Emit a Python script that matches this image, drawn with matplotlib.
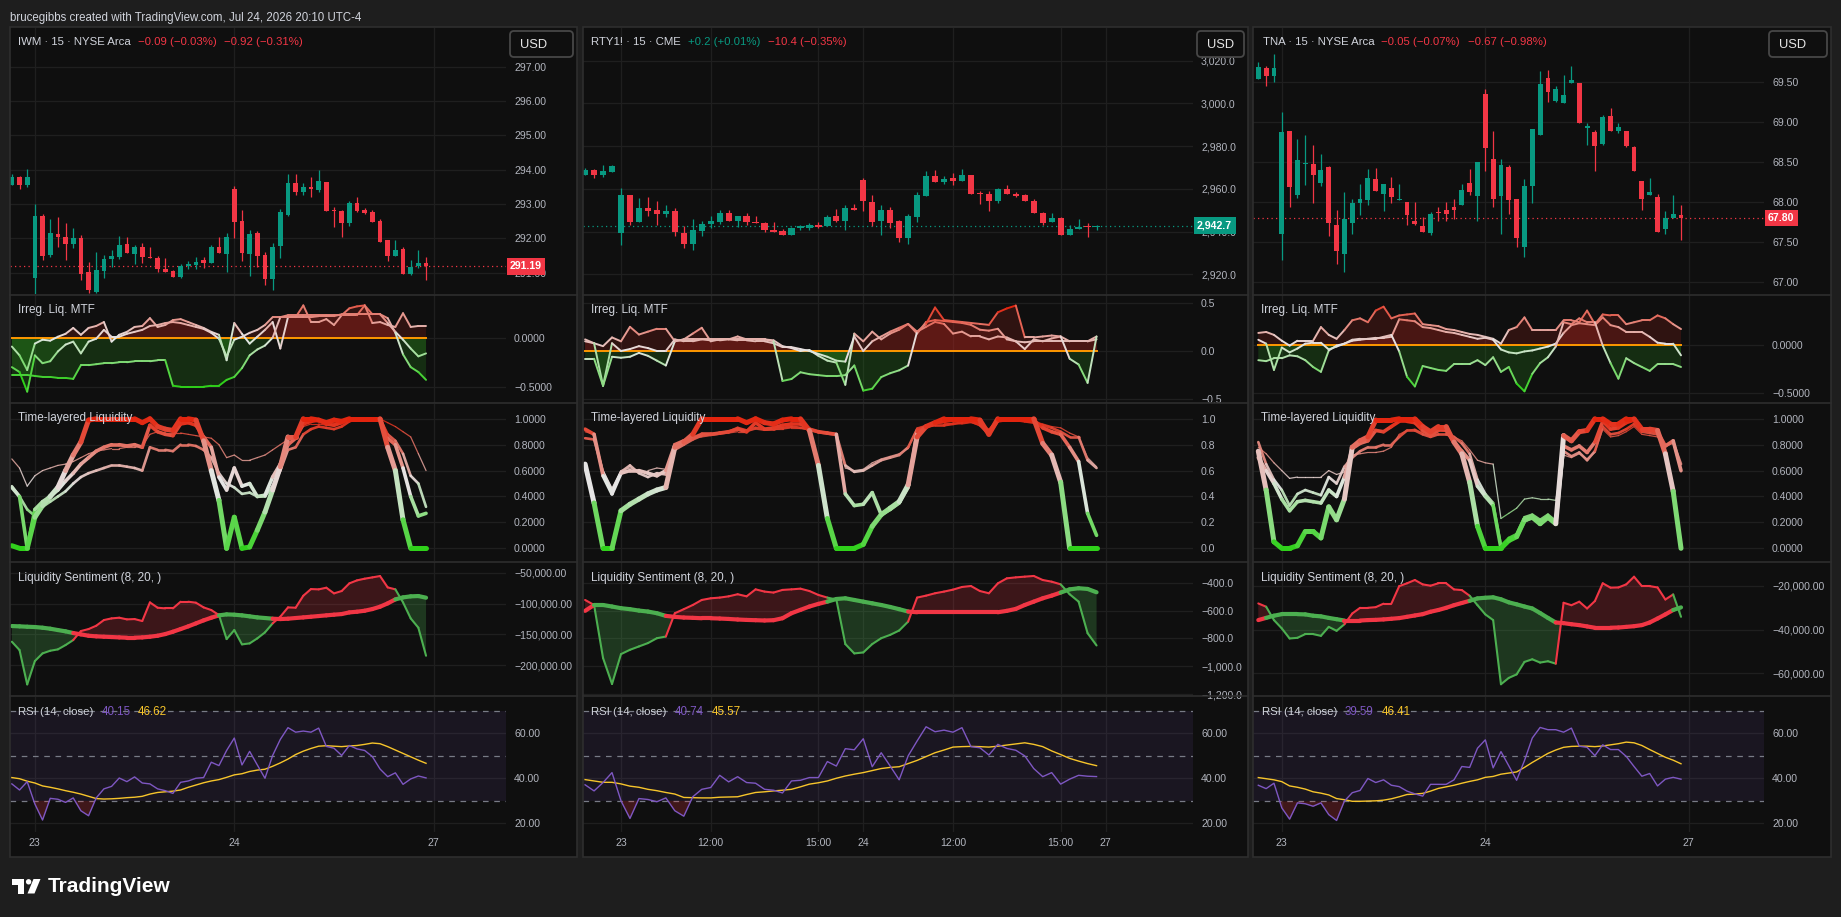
import numpy as np
import matplotlib
matplotlib.use("Agg")
import matplotlib.pyplot as plt
from matplotlib.collections import LineCollection
from matplotlib.colors import LinearSegmentedColormap, Normalize
from matplotlib.patches import Rectangle, FancyBboxPatch, Polygon, Circle
from matplotlib.transforms import blended_transform_factory

plt.rcParams['font.family'] = ['Liberation Sans', 'DejaVu Sans']

# ---------------- IWM (15m) ----------------
iwm_open = [293.55, 293.80, 293.55, 290.85, 292.65, 291.51, 292.12, 292.04, 291.84, 292.02, 291.01, 290.45, 291.06, 291.40, 291.47, 291.85, 291.54, 291.75, 291.47, 291.42, 291.10, 291.05, 290.88, 291.20, 291.22, 291.37, 291.29, 291.74, 291.54, 293.44, 292.50, 291.54, 292.15, 291.51, 290.82, 291.78, 292.68, 293.62, 293.36, 293.49, 293.41, 293.64, 292.83, 292.80, 292.46, 293.02, 292.83, 292.77, 292.50, 291.95, 291.50, 291.69, 290.96, 291.19, 291.27]
iwm_high = [293.89, 293.83, 294.02, 293.00, 292.70, 292.56, 292.61, 292.45, 292.29, 292.10, 291.30, 291.59, 291.53, 291.66, 292.06, 292.04, 291.80, 291.88, 291.75, 291.50, 291.42, 291.08, 291.25, 291.34, 291.45, 291.47, 291.81, 292.03, 292.15, 293.52, 292.83, 292.24, 292.21, 291.59, 291.88, 292.87, 293.87, 293.87, 293.61, 293.78, 293.99, 293.64, 292.92, 292.83, 293.09, 293.20, 292.90, 292.83, 292.56, 291.95, 291.95, 291.76, 291.37, 291.66, 291.45]
iwm_low = [293.55, 293.44, 293.50, 290.38, 291.37, 291.46, 291.74, 291.37, 291.71, 290.79, 290.40, 290.40, 290.86, 291.17, 291.40, 291.56, 291.24, 291.27, 291.44, 291.03, 291.03, 290.88, 290.85, 291.10, 291.10, 291.15, 291.27, 291.56, 291.03, 292.02, 291.35, 290.91, 291.17, 290.64, 290.50, 291.44, 292.65, 293.26, 293.26, 293.21, 293.34, 292.81, 292.34, 292.05, 292.37, 292.78, 292.71, 292.49, 291.90, 291.35, 291.50, 290.96, 290.93, 291.15, 290.79]
iwm_close = [293.80, 293.55, 293.78, 292.65, 291.49, 292.15, 292.05, 291.84, 292.01, 290.96, 290.50, 291.08, 291.40, 291.50, 291.80, 291.58, 291.76, 291.47, 291.44, 291.12, 291.03, 290.88, 291.21, 291.25, 291.31, 291.27, 291.74, 291.58, 292.03, 292.49, 291.56, 292.13, 291.49, 290.83, 291.76, 292.77, 293.61, 293.36, 293.49, 293.43, 293.67, 292.81, 292.80, 292.46, 293.04, 292.81, 292.73, 292.49, 291.90, 291.49, 291.66, 290.96, 291.17, 291.27, 291.19]

iwm_irr_a = [-0.09, -0.18, -0.33, -0.06, -0.02, -0.03, 0.01, 0.04, 0.10, 0.03, 0.10, 0.12, 0.16, -0.04, 0.03, 0.06, 0.11, 0.12, 0.20, 0.11, 0.13, 0.18, 0.19, 0.16, 0.13, 0.10, 0.06, 0.03, -0.23, 0.15, 0.04, -0.06, 0.01, 0.08, 0.16, -0.11, 0.21, 0.21, 0.33, 0.16, 0.16, 0.19, 0.13, 0.23, 0.23, 0.23, 0.33, 0.24, 0.24, 0.15, 0.06, -0.02, -0.11, -0.19, -0.16]
iwm_irr_b = [-0.30, -0.35, -0.55, -0.18, -0.26, -0.24, -0.14, -0.07, -0.04, -0.16, -0.04, -0.01, 0.08, 0.01, 0.01, 0.04, 0.06, 0.08, 0.12, 0.13, 0.15, 0.16, 0.15, 0.13, 0.11, 0.09, 0.05, -0.01, -0.19, -0.02, 0.01, 0.05, 0.08, 0.13, 0.21, 0.21, 0.23, 0.23, 0.23, 0.23, 0.23, 0.23, 0.23, 0.23, 0.30, 0.32, 0.33, 0.15, 0.16, 0.13, 0.11, 0.25, 0.11, 0.12, 0.12]
iwm_irr_c = [-0.38, -0.38, -0.38, -0.39, -0.40, -0.40, -0.41, -0.41, -0.42, -0.28, -0.28, -0.27, -0.26, -0.26, -0.25, -0.25, -0.24, -0.24, -0.24, -0.23, -0.23, -0.49, -0.50, -0.50, -0.50, -0.50, -0.49, -0.49, -0.43, -0.40, -0.31, -0.18, -0.12, -0.08, 0.0, 0.21, 0.21, 0.21, 0.21, 0.21, 0.22, 0.22, 0.22, 0.24, 0.24, 0.24, 0.24, 0.24, 0.24, 0.20, 0.05, -0.17, -0.30, -0.35, -0.43]

iwm_tll_a = [0.02, 0.0, 0.0, 0.24, 0.33, 0.40, 0.47, 0.60, 0.72, 0.82, 0.99, 1.0, 1.0, 1.0, 1.0, 1.0, 1.0, 0.97, 1.0, 0.94, 0.92, 0.91, 1.0, 1.0, 0.99, 0.83, 0.60, 0.37, 0.0, 0.24, 0.0, 0.01, 0.14, 0.28, 0.45, 0.63, 0.86, 0.86, 1.0, 1.0, 0.99, 0.97, 0.99, 0.98, 1.0, 1.0, 1.0, 1.0, 1.0, 0.78, 0.60, 0.22, 0.0, 0.0, 0.0]
iwm_tll_b = [0.47, 0.40, 0.0, 0.30, 0.36, 0.40, 0.45, 0.52, 0.58, 0.65, 0.70, 0.75, 0.78, 0.80, 0.80, 0.79, 0.80, 0.78, 0.95, 0.90, 0.88, 0.87, 0.96, 0.97, 0.95, 0.86, 0.78, 0.55, 0.45, 0.62, 0.48, 0.50, 0.40, 0.41, 0.55, 0.65, 0.80, 0.85, 0.96, 0.98, 0.99, 0.96, 0.95, 0.97, 1.0, 1.0, 1.0, 1.0, 1.0, 0.85, 0.80, 0.62, 0.40, 0.25, 0.27]
iwm_tll_c = [0.48, 0.40, 0.30, 0.25, 0.32, 0.36, 0.40, 0.44, 0.50, 0.55, 0.58, 0.60, 0.62, 0.64, 0.64, 0.63, 0.62, 0.60, 0.78, 0.76, 0.76, 0.75, 0.80, 0.80, 0.79, 0.76, 0.70, 0.58, 0.50, 0.47, 0.42, 0.43, 0.40, 0.40, 0.48, 0.60, 0.76, 0.78, 0.88, 0.92, 0.94, 0.93, 0.92, 0.94, 0.98, 1.0, 1.0, 1.0, 1.0, 0.88, 0.83, 0.73, 0.56, 0.50, 0.32]
iwm_tll_d = [0.69, 0.62, 0.48, 0.56, 0.60, 0.62, 0.64, 0.65, 0.67, 0.70, 0.73, 0.75, 0.76, 0.77, 0.77, 0.78, 0.78, 0.79, 0.88, 0.90, 0.89, 0.89, 0.89, 0.88, 0.87, 0.86, 0.85, 0.80, 0.70, 0.72, 0.68, 0.68, 0.70, 0.72, 0.76, 0.80, 0.84, 0.86, 0.94, 0.96, 0.96, 0.95, 0.96, 0.98, 1.0, 1.0, 1.0, 1.0, 1.0, 0.97, 0.94, 0.90, 0.86, 0.73, 0.60]

iwm_sent_fast = [-161800, -175300, -230900, -193100, -180700, -176400, -174200, -167200, -159100, -144500, -141300, -135900, -126700, -124000, -122900, -125600, -125100, -128300, -98100, -106700, -107800, -107800, -97000, -97000, -98600, -106200, -110500, -118600, -157500, -142900, -166100, -164500, -156400, -146700, -132100, -121300, -106200, -106700, -87300, -76500, -77000, -74300, -83500, -79700, -67300, -62400, -59700, -57600, -55400, -73800, -77000, -98100, -124000, -139100, -184500]
iwm_sent_slow = [-136400, -136900, -137500, -138000, -139100, -140700, -142900, -145000, -147700, -149900, -152100, -153100, -153700, -154200, -154800, -155300, -155300, -154800, -153700, -152100, -149400, -145600, -141300, -136900, -132100, -127200, -122900, -119100, -117500, -118000, -119100, -120700, -122400, -123400, -124500, -125100, -124500, -123400, -122400, -121300, -120200, -119100, -118000, -117000, -114300, -113200, -111600, -108900, -105100, -99700, -93200, -90000, -88300, -87800, -90500]

iwm_rsi = [37.5, 34.8, 38.5, 28.6, 21.5, 31.1, 30.7, 29.3, 31.3, 25.6, 23.4, 31.3, 35.3, 36.4, 40.1, 38.5, 40.6, 37.9, 37.5, 35.3, 34.5, 33.3, 38.2, 38.8, 40.0, 40.3, 47.1, 45.6, 52.3, 57.8, 45.9, 51.9, 45.9, 40.0, 50.1, 57.2, 62.4, 60.4, 60.9, 60.4, 62.2, 54.1, 53.3, 50.1, 54.5, 53.0, 52.3, 49.6, 44.1, 40.7, 42.4, 37.3, 39.7, 41.0, 40.15]
iwm_rsi_ma = [40.3, 39.8, 38.7, 37.9, 36.6, 36.0, 35.3, 34.5, 33.8, 33.0, 32.0, 31.0, 30.8, 30.9, 31.1, 31.4, 31.6, 32.0, 33.0, 33.7, 34.0, 34.3, 34.8, 36.0, 37.0, 38.0, 38.8, 39.4, 40.4, 41.5, 42.0, 43.0, 43.6, 44.0, 45.3, 46.8, 48.5, 50.5, 52.0, 53.2, 54.2, 54.4, 54.2, 54.0, 54.3, 54.5, 55.0, 55.6, 55.3, 54.0, 52.5, 51.0, 49.5, 48.0, 46.62]

# ---------------- RTY1! (15m) ----------------
rty_open = [2966.3, 2968.6, 2966.3, 2967.8, 2939.1, 2956.9, 2944.6, 2951.2, 2950.3, 2948.1, 2949.8, 2939.3, 2934.4, 2940.1, 2943.5, 2944.3, 2948.9, 2945.1, 2947.5, 2944.3, 2944.2, 2940.5, 2940.1, 2938.3, 2941.8, 2941.6, 2942.9, 2942.4, 2947.5, 2945.1, 2951.2, 2963.9, 2954.0, 2945.1, 2950.3, 2944.8, 2936.9, 2947.0, 2956.5, 2965.8, 2963.1, 2965.0, 2963.6, 2966.3, 2958.1, 2957.6, 2954.2, 2959.7, 2957.6, 2956.9, 2954.5, 2948.7, 2944.3, 2946.2, 2938.5, 2941.2, 2942.3, 2942.0]
rty_high = [2969.7, 2969.1, 2971.0, 2971.0, 2960.5, 2957.3, 2955.8, 2956.1, 2954.5, 2952.6, 2950.9, 2942.7, 2945.9, 2945.1, 2947.3, 2950.3, 2950.3, 2947.3, 2948.9, 2947.5, 2944.6, 2944.3, 2941.2, 2942.1, 2943.2, 2944.2, 2944.6, 2947.9, 2950.6, 2952.2, 2953.1, 2965.0, 2957.3, 2952.2, 2951.4, 2945.4, 2948.2, 2958.4, 2968.3, 2968.6, 2966.0, 2967.5, 2969.1, 2966.3, 2958.9, 2958.9, 2960.5, 2961.9, 2958.4, 2957.6, 2955.1, 2949.0, 2948.7, 2947.0, 2943.1, 2945.9, 2944.0, 2943.1]
rty_low = [2966.3, 2965.0, 2965.5, 2967.8, 2933.8, 2943.1, 2944.3, 2947.1, 2943.2, 2946.7, 2937.7, 2932.5, 2931.5, 2938.0, 2941.6, 2943.4, 2945.1, 2942.0, 2943.2, 2943.8, 2939.6, 2939.6, 2938.3, 2938.3, 2940.9, 2940.9, 2941.8, 2942.4, 2944.3, 2940.9, 2950.3, 2949.8, 2942.7, 2938.3, 2941.8, 2935.2, 2934.1, 2944.3, 2956.5, 2963.1, 2962.4, 2961.9, 2963.6, 2957.5, 2952.8, 2949.5, 2953.4, 2957.5, 2956.1, 2954.2, 2948.5, 2943.1, 2944.3, 2938.5, 2938.5, 2941.2, 2937.3, 2940.9]
rty_close = [2968.6, 2966.3, 2968.2, 2970.5, 2956.9, 2944.6, 2951.2, 2949.8, 2948.1, 2949.8, 2939.6, 2934.4, 2940.9, 2943.5, 2945.1, 2948.9, 2945.1, 2947.3, 2944.3, 2943.8, 2940.5, 2939.6, 2938.3, 2941.8, 2942.6, 2942.9, 2942.3, 2947.0, 2945.1, 2951.2, 2950.3, 2954.2, 2944.6, 2950.3, 2943.8, 2936.8, 2947.5, 2956.9, 2965.8, 2963.1, 2964.5, 2963.6, 2966.3, 2957.5, 2957.5, 2954.2, 2959.7, 2957.5, 2956.4, 2954.2, 2948.5, 2943.8, 2946.2, 2938.5, 2941.2, 2942.3, 2942.0, 2942.7]

rty_irr_a = [0.12, 0.08, 0.05, 0.14, 0.10, 0.25, 0.17, 0.20, 0.23, 0.23, 0.10, 0.12, 0.18, 0.24, 0.10, 0.12, 0.12, 0.15, 0.12, 0.12, 0.12, 0.11, 0.05, 0.03, 0.0, 0.01, -0.05, -0.10, -0.12, -0.35, 0.18, 0.10, 0.20, 0.12, 0.18, 0.22, 0.28, 0.20, 0.25, 0.30, 0.28, 0.18, 0.20, 0.15, 0.15, 0.12, 0.15, 0.14, 0.10, 0.02, 0.12, 0.10, 0.13, 0.15, 0.10, 0.10, 0.10, 0.15]
rty_irr_b = [0.10, 0.08, -0.36, 0.08, 0.0, 0.02, 0.05, 0.03, 0.0, 0.0, 0.12, 0.10, 0.10, 0.12, 0.11, 0.11, 0.12, 0.11, 0.11, 0.10, 0.10, 0.08, 0.04, 0.04, 0.02, 0.0, -0.03, -0.06, -0.10, -0.11, 0.15, 0.0, 0.10, 0.15, 0.20, 0.24, 0.28, 0.18, 0.30, 0.32, 0.31, 0.30, 0.29, 0.27, 0.22, 0.21, 0.23, 0.12, 0.10, 0.09, 0.10, 0.10, 0.10, 0.10, 0.10, 0.10, 0.10, 0.12]
rty_irr_c = [-0.08, -0.08, -0.36, -0.06, -0.07, -0.06, -0.02, -0.05, -0.10, -0.15, 0.10, 0.12, 0.12, 0.12, 0.12, 0.12, 0.12, 0.12, 0.12, 0.12, 0.12, 0.10, -0.31, -0.29, -0.22, -0.24, -0.25, -0.26, -0.26, -0.25, -0.15, -0.41, -0.39, -0.27, -0.23, -0.20, -0.15, 0.20, 0.28, 0.45, 0.32, 0.31, 0.30, 0.29, 0.28, 0.27, 0.40, 0.44, 0.47, 0.14, 0.14, 0.15, 0.16, 0.15, -0.08, -0.14, -0.33, 0.15]

rty_tll_a = [0.65, 0.35, 0.0, 0.0, 0.29, 0.34, 0.38, 0.42, 0.45, 0.47, 0.78, 0.82, 0.88, 1.0, 1.0, 1.0, 1.0, 1.0, 0.97, 1.0, 0.97, 0.96, 0.99, 1.0, 1.0, 0.91, 0.64, 0.23, 0.0, 0.0, 0.0, 0.03, 0.17, 0.26, 0.31, 0.36, 0.49, 0.86, 0.94, 0.97, 1.0, 1.0, 1.0, 1.0, 0.99, 0.88, 1.0, 1.0, 1.0, 1.0, 1.0, 0.81, 0.72, 0.51, 0.0, 0.0, 0.0, 0.0]
rty_tll_b = [0.92, 0.88, 0.56, 0.42, 0.58, 0.60, 0.60, 0.58, 0.56, 0.60, 0.80, 0.83, 0.85, 0.88, 0.88, 0.89, 0.90, 0.92, 0.90, 0.97, 0.92, 0.93, 0.95, 0.96, 0.96, 0.92, 0.90, 0.89, 0.88, 0.42, 0.33, 0.34, 0.43, 0.26, 0.30, 0.35, 0.47, 0.90, 0.94, 0.97, 0.98, 0.99, 0.99, 0.99, 0.97, 0.90, 0.99, 1.0, 1.0, 1.0, 0.99, 0.93, 0.90, 0.88, 0.78, 0.67, 0.27, 0.10]
rty_tll_c = [0.85, 0.84, 0.59, 0.45, 0.59, 0.64, 0.58, 0.55, 0.58, 0.57, 0.76, 0.80, 0.84, 0.87, 0.88, 0.89, 0.90, 0.93, 0.91, 0.93, 0.92, 0.92, 0.93, 0.94, 0.93, 0.92, 0.90, 0.89, 0.88, 0.64, 0.59, 0.60, 0.64, 0.68, 0.70, 0.72, 0.78, 0.92, 0.94, 0.95, 0.95, 0.96, 0.97, 0.98, 0.95, 0.88, 0.98, 0.99, 0.99, 0.98, 0.97, 0.95, 0.93, 0.90, 0.86, 0.86, 0.68, 0.62]
rty_tll_d = [0.90, 0.88, 0.60, 0.46, 0.60, 0.62, 0.60, 0.60, 0.62, 0.61, 0.78, 0.82, 0.85, 0.86, 0.87, 0.88, 0.89, 0.90, 0.90, 0.92, 0.91, 0.92, 0.92, 0.93, 0.93, 0.91, 0.89, 0.88, 0.87, 0.62, 0.60, 0.61, 0.66, 0.69, 0.71, 0.73, 0.77, 0.93, 0.95, 0.96, 0.97, 0.97, 0.96, 0.97, 0.95, 0.92, 0.99, 1.0, 1.0, 0.99, 0.98, 0.96, 0.94, 0.93, 0.89, 0.86, 0.70, 0.63]

rty_sent_fast = [-524, -560, -940, -1126, -912, -881, -857, -833, -798, -786, -619, -590, -560, -524, -512, -507, -498, -483, -498, -448, -464, -471, -452, -448, -443, -460, -488, -507, -521, -840, -907, -900, -840, -798, -774, -743, -679, -507, -493, -476, -464, -450, -431, -424, -460, -476, -405, -369, -362, -357, -352, -381, -393, -412, -483, -536, -762, -850]
rty_sent_slow = [-602, -560, -560, -571, -583, -590, -600, -607, -619, -638, -645, -650, -652, -655, -655, -657, -660, -664, -667, -669, -671, -669, -655, -619, -595, -571, -552, -536, -517, -512, -524, -536, -548, -560, -574, -590, -607, -612, -612, -612, -612, -612, -612, -612, -612, -612, -612, -602, -588, -560, -536, -512, -493, -471, -448, -440, -445, -469]

rty_rsi = [37.1, 34.4, 38.1, 42.5, 30.0, 22.2, 31.0, 30.6, 29.6, 31.3, 25.6, 23.2, 31.8, 35.1, 35.9, 41.3, 38.4, 40.7, 38.1, 37.8, 35.1, 34.7, 33.5, 38.8, 39.1, 40.3, 40.3, 47.4, 45.4, 53.1, 52.6, 57.5, 45.1, 51.3, 45.4, 39.3, 49.9, 56.5, 62.8, 60.6, 61.3, 60.4, 62.4, 54.0, 53.5, 50.3, 55.0, 53.2, 52.4, 49.9, 44.3, 40.7, 42.5, 37.4, 39.6, 41.3, 40.9, 40.74]
rty_rsi_ma = [39.4, 38.8, 38.2, 38.2, 37.5, 36.5, 36.0, 35.1, 34.5, 33.7, 33.0, 31.5, 31.4, 31.3, 31.3, 31.6, 31.7, 31.8, 32.8, 33.7, 34.0, 34.4, 34.7, 35.1, 36.2, 37.4, 38.0, 38.8, 40.0, 41.0, 41.8, 42.5, 43.4, 44.3, 44.8, 45.1, 46.5, 47.9, 49.6, 51.3, 52.5, 53.8, 54.0, 54.1, 54.0, 53.8, 54.2, 54.7, 55.2, 55.7, 55.0, 54.0, 52.1, 50.5, 48.8, 47.6, 46.5, 45.57]

# ---------------- TNA (15m) ----------------
tna_open = [69.53, 69.67, 69.57, 67.60, 68.89, 68.09, 68.47, 68.47, 68.24, 68.44, 67.71, 67.35, 67.74, 67.99, 68.02, 68.29, 68.10, 68.17, 68.02, 68.00, 67.76, 67.70, 67.61, 67.87, 67.90, 67.94, 67.96, 68.24, 68.07, 69.35, 68.54, 68.07, 68.44, 68.04, 67.44, 68.20, 68.84, 69.55, 69.26, 69.23, 69.48, 69.48, 68.92, 68.87, 68.72, 69.07, 68.88, 68.89, 68.68, 68.26, 68.09, 68.06, 67.66, 67.80, 67.84]
tna_high = [69.75, 69.69, 69.84, 69.12, 68.89, 68.79, 68.84, 68.71, 68.60, 68.45, 67.90, 68.12, 68.04, 68.22, 68.41, 68.42, 68.22, 68.31, 68.22, 68.00, 68.00, 67.81, 67.87, 67.94, 68.00, 68.03, 68.22, 68.41, 68.50, 69.41, 68.89, 68.54, 68.46, 68.04, 68.29, 68.91, 69.63, 69.65, 69.45, 69.58, 69.70, 69.48, 68.99, 68.90, 69.08, 69.17, 68.98, 68.89, 68.70, 68.26, 68.30, 68.10, 67.89, 68.08, 67.96]
tna_low = [69.53, 69.44, 69.49, 67.27, 67.93, 68.05, 68.21, 67.99, 68.20, 67.57, 67.22, 67.13, 67.60, 67.83, 67.96, 68.13, 67.88, 67.98, 68.02, 67.71, 67.71, 67.62, 67.59, 67.76, 67.76, 67.79, 67.96, 68.09, 67.76, 68.38, 67.93, 67.60, 67.85, 67.44, 67.31, 67.98, 68.84, 69.25, 69.25, 69.23, 69.48, 68.99, 68.71, 68.39, 68.71, 68.89, 68.86, 68.69, 68.38, 67.90, 68.08, 67.63, 67.60, 67.80, 67.52]
tna_close = [69.68, 69.57, 69.67, 68.87, 68.19, 68.52, 68.49, 68.33, 68.40, 67.74, 67.39, 67.78, 67.98, 68.04, 68.30, 68.14, 68.22, 68.06, 68.03, 67.83, 67.72, 67.62, 67.85, 67.86, 67.85, 67.90, 68.15, 68.12, 68.50, 68.67, 68.03, 68.46, 68.02, 67.55, 68.20, 68.91, 69.47, 69.37, 69.41, 69.33, 69.52, 68.99, 68.95, 68.70, 69.06, 68.89, 68.93, 68.70, 68.38, 68.03, 68.12, 67.63, 67.80, 67.85, 67.80]

tna_irr_a = [0.12, 0.13, 0.10, 0.04, -0.01, 0.04, 0.04, 0.04, 0.18, 0.10, 0.06, 0.15, 0.25, 0.27, 0.23, 0.35, 0.39, 0.27, 0.30, 0.31, 0.32, 0.21, 0.20, 0.19, 0.16, 0.15, 0.13, 0.11, 0.10, 0.08, 0.06, 0.01, 0.15, 0.18, 0.28, 0.15, 0.15, 0.15, 0.15, 0.25, 0.25, 0.23, 0.35, 0.21, 0.31, 0.30, 0.30, 0.21, 0.23, 0.25, 0.25, 0.30, 0.27, 0.21, 0.16]
tna_irr_b = [0.05, 0.01, -0.26, -0.03, -0.08, -0.04, 0.01, 0.02, 0.02, -0.05, -0.02, 0.01, 0.04, 0.05, 0.06, 0.07, 0.07, 0.08, 0.26, 0.25, 0.24, 0.18, 0.17, 0.15, 0.13, 0.12, 0.10, 0.08, 0.06, 0.07, 0.05, -0.05, -0.08, -0.09, -0.07, -0.06, -0.04, -0.02, 0.01, 0.12, 0.20, 0.22, 0.21, 0.20, 0.28, 0.20, 0.18, 0.13, 0.13, 0.13, 0.08, 0.02, 0.01, 0.01, -0.11]
tna_irr_c = [-0.16, -0.17, -0.14, -0.14, -0.11, -0.12, -0.16, -0.23, -0.28, -0.06, -0.01, 0.01, 0.05, 0.06, 0.06, 0.06, 0.08, 0.10, -0.07, -0.33, -0.43, -0.22, -0.24, -0.26, -0.27, -0.20, -0.20, -0.20, -0.16, -0.21, -0.13, -0.28, -0.23, -0.40, -0.48, -0.30, -0.19, -0.13, -0.02, 0.23, 0.21, 0.27, 0.23, 0.23, -0.01, -0.19, -0.35, -0.14, -0.19, -0.23, -0.27, -0.20, -0.20, -0.20, -0.23]

tna_tll_a = [0.75, 0.45, 0.05, 0.0, 0.0, 0.02, 0.13, 0.13, 0.08, 0.32, 0.22, 0.38, 0.78, 0.83, 0.86, 0.99, 0.99, 0.99, 1.0, 1.0, 1.0, 0.94, 0.90, 0.94, 0.94, 0.82, 0.73, 0.51, 0.17, 0.0, 0.0, 0.0, 0.06, 0.09, 0.22, 0.24, 0.19, 0.24, 0.19, 0.87, 0.83, 0.90, 0.91, 1.0, 1.0, 0.96, 0.96, 1.0, 1.0, 0.92, 0.92, 0.91, 0.73, 0.44, 0.0]
tna_tll_b = [0.70, 0.60, 0.50, 0.38, 0.29, 0.36, 0.37, 0.36, 0.35, 0.45, 0.40, 0.55, 0.77, 0.81, 0.83, 0.91, 0.90, 0.94, 0.98, 0.98, 0.97, 0.91, 0.87, 0.91, 0.91, 0.82, 0.75, 0.68, 0.48, 0.40, 0.33, 0.0, 0.06, 0.09, 0.21, 0.24, 0.20, 0.24, 0.19, 0.79, 0.76, 0.79, 0.74, 0.82, 0.98, 0.92, 0.93, 0.97, 0.99, 0.91, 0.91, 0.90, 0.79, 0.83, 0.60]
tna_tll_c = [0.82, 0.65, 0.53, 0.45, 0.33, 0.42, 0.45, 0.43, 0.41, 0.55, 0.50, 0.63, 0.70, 0.75, 0.78, 0.78, 0.80, 0.80, 0.86, 0.91, 0.91, 0.88, 0.86, 0.88, 0.88, 0.86, 0.81, 0.73, 0.53, 0.42, 0.35, 0.02, 0.08, 0.11, 0.24, 0.26, 0.22, 0.26, 0.21, 0.75, 0.71, 0.74, 0.68, 0.75, 0.94, 0.88, 0.89, 0.92, 0.96, 0.90, 0.89, 0.88, 0.79, 0.82, 0.65]
tna_tll_d = [0.78, 0.73, 0.66, 0.60, 0.54, 0.55, 0.55, 0.55, 0.55, 0.60, 0.57, 0.59, 0.72, 0.73, 0.74, 0.74, 0.75, 0.78, 0.88, 0.91, 0.92, 0.89, 0.90, 0.91, 0.90, 0.86, 0.83, 0.76, 0.68, 0.66, 0.65, 0.23, 0.27, 0.31, 0.38, 0.39, 0.38, 0.38, 0.37, 0.72, 0.70, 0.73, 0.69, 0.74, 0.92, 0.86, 0.87, 0.90, 0.94, 0.88, 0.87, 0.86, 0.80, 0.81, 0.59]

tna_sent_fast = [-28100, -29600, -35700, -39500, -44100, -43800, -42100, -42100, -42900, -38800, -40600, -37600, -32700, -30100, -30100, -29800, -28200, -28200, -20200, -18900, -17400, -19400, -20000, -18900, -18900, -21700, -22000, -24600, -28900, -33100, -35700, -65000, -62100, -60500, -54800, -53600, -55100, -54500, -55600, -27800, -28900, -27300, -30400, -27000, -18900, -20900, -20800, -19400, -15900, -20200, -20200, -20800, -26300, -24000, -34200]
tna_sent_slow = [-35700, -34700, -33700, -33000, -33000, -33000, -33100, -33700, -34000, -34700, -35300, -35900, -35900, -35900, -35700, -35600, -35400, -35100, -34800, -34200, -33600, -33000, -31900, -31100, -30100, -28900, -27900, -26900, -25800, -25500, -25300, -26200, -27600, -28500, -29500, -30400, -32500, -34700, -36800, -37100, -37600, -38000, -38600, -39200, -39200, -39200, -39100, -38800, -38500, -38000, -36800, -35000, -33100, -31100, -29900]

tna_rsi = [36.9, 35.4, 37.8, 26.9, 21.9, 29.1, 28.7, 27.6, 29.1, 23.9, 21.3, 29.9, 33.6, 34.6, 39.9, 38.1, 39.3, 36.9, 36.3, 34.3, 33.1, 32.1, 37.3, 37.3, 37.3, 39.3, 45.2, 44.8, 53.3, 57.0, 44.6, 51.8, 45.5, 39.1, 47.8, 57.8, 62.5, 61.5, 61.5, 60.4, 62.2, 54.2, 53.7, 50.0, 54.8, 52.7, 52.7, 49.7, 45.2, 40.9, 42.1, 36.6, 39.6, 40.4, 39.59]
tna_rsi_ma = [40.3, 39.8, 39.3, 38.5, 36.6, 36.0, 35.2, 34.0, 33.4, 32.6, 31.0, 30.5, 29.8, 29.8, 29.9, 30.0, 30.3, 30.9, 31.8, 32.8, 33.0, 33.3, 34.3, 35.5, 36.2, 36.9, 37.8, 38.6, 39.3, 40.4, 40.8, 41.8, 42.3, 42.8, 44.8, 47.0, 49.0, 51.0, 52.5, 53.7, 54.1, 54.2, 54.2, 54.0, 54.3, 54.8, 55.3, 56.0, 55.7, 54.5, 52.7, 51.0, 49.3, 48.0, 46.41]

# ---------------- axes labels ----------------
day_ticks = [3, 29, 55]
day_labels = ['23', '24', '27']
rty_ticks = [4, 14, 26, 31, 41, 53, 58]
rty_labels = ['23', '12:00', '15:00', '24', '12:00', '15:00', '27']

# ---------------- style ----------------
W, H = 1841, 917
BG = '#1e1e1e'
PANE = '#0f0f0f'
GRID = '#1f1f1f'
SEP = '#2e2e2e'
TXT = '#d1d4dc'
AXT = '#b2b5be'
UP = '#089981'
DN = '#f23645'
SG = '#4caf50'
PURPLE = '#7e57c2'
YELLOW = '#f7c52b'

tll_cmap = LinearSegmentedColormap.from_list('tll', ['#2fd11a', '#e6e6e6', '#e3240e'])
tll_norm = Normalize(0.0, 1.0)
irr_norm = Normalize(-0.45, 0.45)

PANES = {'price': (28, 294), 'irr': (295, 403), 'tll': (403.5, 561),
         'sent': (562, 696), 'rsi': (696.5, 832)}


def fmt(v, d):
    return f"{v:,.{d}f}".replace('-', '\u2212')


def rect(x0, y0, x1, y1):
    return [x0 / W, 1 - y1 / H, (x1 - x0) / W, (y1 - y0) / H]


def candles(ax, o, h, l, c, width, minh):
    o, h, l, c = map(np.asarray, (o, h, l, c))
    x = np.arange(len(o))
    col = np.where(c >= o, UP, DN)
    ax.vlines(x, l, h, colors=col, lw=0.9, zorder=3)
    ax.bar(x, np.maximum(np.abs(c - o), minh), width, bottom=np.minimum(o, c),
           color=col, lw=0, zorder=4)


def grad_line(ax, y, norm, lw, alpha=1.0):
    y = np.asarray(y, float)
    x = np.arange(len(y))
    pts = np.column_stack([x, y])
    segs = np.stack([pts[:-1], pts[1:]], axis=1)
    vals = (y[:-1] + y[1:]) / 2
    lc = LineCollection(segs, colors=tll_cmap(norm(vals)), linewidths=lw, alpha=alpha,
                        capstyle='round', joinstyle='round', zorder=4)
    ax.add_collection(lc)


def state_line(ax, y, up_state, lw):
    y = np.asarray(y, float)
    x = np.arange(len(y))
    pts = np.column_stack([x, y])
    segs = np.stack([pts[:-1], pts[1:]], axis=1)
    cols = [DN if s else SG for s in up_state[1:]]
    ax.add_collection(LineCollection(segs, colors=cols, linewidths=lw,
                                     capstyle='round', joinstyle='round', zorder=4))


panels = [
    dict(x0=10, x1=577, pr=506, xf=11.86, st=7.67, cw=0.6,
         ohlc=(iwm_open, iwm_high, iwm_low, iwm_close), pdec=2,
         plim=(290.38, 298.13), pticks=[291, 292, 293, 294, 295, 296, 297],
         irr=(iwm_irr_a, iwm_irr_b, iwm_irr_c), ilim=(-0.666, 0.436), iticks=[0.0, -0.5], idec=4,
         tll=(iwm_tll_a, iwm_tll_b, iwm_tll_c, iwm_tll_d), tdec=4,
         sent=(iwm_sent_fast, iwm_sent_slow), slim=(-249700, -32670),
         sticks=[-50000, -100000, -150000, -200000], sdec=2,
         rsi=(iwm_rsi, iwm_rsi_ma), xt=day_ticks, xtl=day_labels,
         legend=[('IWM \u00b7 15 \u00b7 NYSE Arca', 18, TXT), ('\u22120.09 (\u22120.03%)', 137.6, DN),
                 ('\u22120.92 (\u22120.31%)', 224, DN)],
         rsix=(17.8, 102, 137.6), usd=(510, 63)),
    dict(x0=583, x1=1248, pr=1193, xf=585.1, st=8.973, cw=0.7,
         ohlc=(rty_open, rty_high, rty_low, rty_close), pdec=1,
         plim=(2910.8, 3035.2), pticks=[2920, 2940, 2960, 2980, 3000, 3020],
         irr=(rty_irr_a, rty_irr_b, rty_irr_c), ilim=(-0.538, 0.579), iticks=[0.5, 0.0, -0.5], idec=1,
         tll=(rty_tll_a, rty_tll_b, rty_tll_c, rty_tll_d), tdec=1,
         sent=(rty_sent_fast, rty_sent_slow), slim=(-1212, -252),
         sticks=[-400, -600, -800, -1000, -1200], sdec=1,
         rsi=(rty_rsi, rty_rsi_ma), xt=rty_ticks, xtl=rty_labels,
         legend=[('RTY1! \u00b7 15 \u00b7 CME', 590.7, TXT), ('+0.2 (+0.01%)', 687.7, UP),
                 ('\u221210.4 (\u22120.35%)', 768, DN)],
         rsix=(590.7, 675, 711.6), usd=(1197, 47)),
    dict(x0=1253, x1=1831, pr=1764, xf=1258.3, st=7.828, cw=0.62,
         ohlc=(tna_open, tna_high, tna_low, tna_close), pdec=2,
         plim=(66.85, 70.17), pticks=[67.0, 67.5, 68.0, 68.5, 69.0, 69.5],
         irr=(tna_irr_a, tna_irr_b, tna_irr_c), ilim=(-0.60, 0.51), iticks=[0.0, -0.5], idec=4,
         tll=(tna_tll_a, tna_tll_b, tna_tll_c, tna_tll_d), tdec=4,
         sent=(tna_sent_fast, tna_sent_slow), slim=(-70365, -9178),
         sticks=[-20000, -40000, -60000], sdec=2,
         rsi=(tna_rsi, tna_rsi_ma), xt=day_ticks, xtl=day_labels,
         legend=[('TNA \u00b7 15 \u00b7 NYSE Arca', 1263, TXT), ('\u22120.05 (\u22120.07%)', 1381, DN),
                 ('\u22120.67 (\u22120.98%)', 1468, DN)],
         rsix=(1262, 1345, 1382), usd=(1769, 58)),
]

fig = plt.figure(figsize=(W / 100, H / 100), dpi=100)
fig.patch.set_facecolor(BG)

bg = fig.add_axes([0, 0, 1, 1])
bg.set_xlim(0, W)
bg.set_ylim(H, 0)
bg.axis('off')
for P in panels:
    bg.add_patch(Rectangle((P['x0'], 27), P['x1'] - P['x0'], 830, fc=PANE, ec='none'))

for P in panels:
    o, h, l, c = P['ohlc']
    n = len(c)
    x = np.arange(n)
    xl = ((P['x0'] - P['xf']) / P['st'], (P['pr'] - P['xf']) / P['st'])
    axs = {}
    for key, (ya, yb) in PANES.items():
        ax = fig.add_axes(rect(P['x0'], ya, P['pr'], yb))
        ax.set_facecolor(PANE)
        for s in ax.spines.values():
            s.set_visible(False)
        ax.yaxis.tick_right()
        ax.tick_params(axis='both', length=0, colors=AXT, labelsize=7.6)
        ax.tick_params(axis='y', pad=5.8)
        ax.tick_params(axis='x', pad=4, labelbottom=(key == 'rsi'))
        ax.set_xticks(P['xt'])
        ax.set_xticklabels(P['xtl'])
        ax.grid(True, color=GRID, lw=0.9)
        ax.set_axisbelow(True)
        axs[key] = ax

    # price
    ax = axs['price']
    ph = P['plim'][1] - P['plim'][0]
    candles(ax, o, h, l, c, P['cw'], ph / 266)
    ax.set_yticks(P['pticks'])
    ax.set_yticklabels([fmt(t, P['pdec']) for t in P['pticks']])
    ax.set_ylim(*P['plim'])
    ax.set_xlim(*xl)
    last_col = UP if c[-1] >= o[-1] else DN
    ax.axhline(c[-1], color=last_col, lw=0.9, ls=(0, (1.0, 2.6)), zorder=2)
    tr = blended_transform_factory(ax.transAxes, ax.transData)
    ax.text(1.0 + 4 / (P['pr'] - P['x0']), c[-1], fmt(c[-1], P['pdec']), transform=tr,
            ha='left', va='center', color='white', fontsize=7.6, fontweight='bold',
            clip_on=False, zorder=10,
            bbox=dict(boxstyle='square,pad=0.32', fc=last_col, ec='none'))

    # irregular liquidity
    ax = axs['irr']
    for y in P['irr']:
        y = np.asarray(y)
        ax.fill_between(x, 0, y, where=y >= 0, interpolate=True, color='#b3261e', alpha=0.2, lw=0, zorder=2)
        ax.fill_between(x, 0, y, where=y <= 0, interpolate=True, color='#2a8f1c', alpha=0.24, lw=0, zorder=2)
    ax.plot([x[0], x[-1]], [0, 0], color='#ff9800', lw=1.4, zorder=3)
    for y in P['irr']:
        grad_line(ax, y, irr_norm, 1.4)
    ax.set_yticks(P['iticks'])
    ax.set_yticklabels([fmt(t, P['idec']) for t in P['iticks']])
    ax.set_ylim(*P['ilim'])
    ax.set_xlim(*xl)

    # time-layered liquidity
    ax = axs['tll']
    la, lb, lc_, ld = P['tll']
    grad_line(ax, ld, tll_norm, 0.9, 0.85)
    grad_line(ax, lc_, tll_norm, 1.9, 0.95)
    grad_line(ax, lb, tll_norm, 2.6)
    grad_line(ax, la, tll_norm, 3.6)
    tt = [0.0, 0.2, 0.4, 0.6, 0.8, 1.0]
    ax.set_yticks(tt)
    ax.set_yticklabels([fmt(t, P['tdec']) for t in tt])
    ax.set_ylim(-0.098, 1.118)
    ax.set_xlim(*xl)

    # liquidity sentiment
    ax = axs['sent']
    fast, slow = (np.asarray(v, float) for v in P['sent'])
    ax.fill_between(x, fast, slow, where=fast >= slow, interpolate=True, color=DN, alpha=0.2, lw=0, zorder=2)
    ax.fill_between(x, fast, slow, where=fast <= slow, interpolate=True, color=SG, alpha=0.25, lw=0, zorder=2)
    state = fast >= slow
    state_line(ax, fast, state, 1.5)
    state_line(ax, slow, state, 3.0)
    ax.set_yticks(P['sticks'])
    ax.set_yticklabels([fmt(t, P['sdec']) for t in P['sticks']])
    ax.set_ylim(*P['slim'])
    ax.set_xlim(*xl)

    # RSI
    ax = axs['rsi']
    rsi, ma = (np.asarray(v, float) for v in P['rsi'])
    ax.axhspan(30, 70, color=PURPLE, alpha=0.1, lw=0, zorder=1)
    for lvl in (70, 50, 30):
        ax.axhline(lvl, color='#787b86', lw=0.9, ls=(0, (4.5, 4.5)), zorder=2)
    ax.fill_between(x, rsi, 30, where=rsi < 30, interpolate=True, color=DN, alpha=0.22, lw=0, zorder=2)
    ax.plot(x, ma, color=YELLOW, lw=1.0, zorder=3)
    ax.plot(x, rsi, color=PURPLE, lw=1.0, zorder=4)
    ax.set_yticks([20, 40, 60])
    ax.set_yticklabels([fmt(t, 2) for t in (20, 40, 60)])
    ax.set_ylim(16.2, 76.2)
    ax.set_xlim(*xl)
    P['rsi_last'] = (rsi[-1], ma[-1])

# ---------------- overlay ----------------
ov = fig.add_axes([0, 0, 1, 1])
ov.set_xlim(0, W)
ov.set_ylim(H, 0)
ov.axis('off')
ov.patch.set_alpha(0)

ov.text(10, 17.5, 'brucegibbs created with TradingView.com, Jul 24, 2026 20:10 UTC-4',
        color=TXT, fontsize=8.3, va='center', ha='left')

for P in panels:
    x0, x1 = P['x0'], P['x1']
    ov.add_patch(Rectangle((x0, 27), x1 - x0, 830, fc='none', ec=SEP, lw=1.2))
    for ys in (294.5, 403, 561.5, 696):
        ov.plot([x0, x1], [ys, ys], color=SEP, lw=1.2)
    for txt, xx, col in P['legend']:
        ov.text(xx, 42, txt, color=col, fontsize=8.2, va='center', ha='left')
    ux, uw = P['usd']
    ov.add_patch(FancyBboxPatch((ux, 31), uw, 26, boxstyle='round,pad=0,rounding_size=4',
                                fc=PANE, ec='#474747', lw=1.3))
    ov.text(ux + 10, 44.5, 'USD', color='#e6e6e6', fontsize=9.3, ha='left', va='center')
    tx = x0 + 8
    ov.text(tx, 310, 'Irreg. Liq. MTF', color=TXT, fontsize=8.5, va='center')
    ov.text(tx, 418, 'Time-layered Liquidity', color=TXT, fontsize=8.5, va='center')
    ov.text(tx, 578, 'Liquidity Sentiment (8, 20, )', color=TXT, fontsize=8.5, va='center')
    r1, r2, r3 = P['rsix']
    rv, mv = P['rsi_last']
    ov.text(r1, 712, 'RSI (14, close)', color=TXT, fontsize=8.2, va='center')
    ov.text(r2, 712, f'{rv:.2f}', color=PURPLE, fontsize=8.4, va='center')
    ov.text(r3, 712, f'{mv:.2f}', color=YELLOW, fontsize=8.4, va='center')

# TradingView logo
ov.add_patch(Polygon([(12, 879), (24.5, 879), (24.5, 893.5), (18.5, 893.5), (18.5, 884.5), (12, 884.5)],
                     closed=True, fc='white', ec='none'))
ov.add_patch(Circle((28.6, 881.8), 2.7, fc='white', ec='none'))
ov.add_patch(Polygon([(33.5, 879), (40.5, 879), (34.5, 893.5), (27.5, 893.5)], closed=True, fc='white', ec='none'))
ov.text(48, 887, 'TradingView', color='white', fontsize=15, fontweight='bold', va='center', ha='left')

fig.savefig('out.png', dpi=100, facecolor=BG)
